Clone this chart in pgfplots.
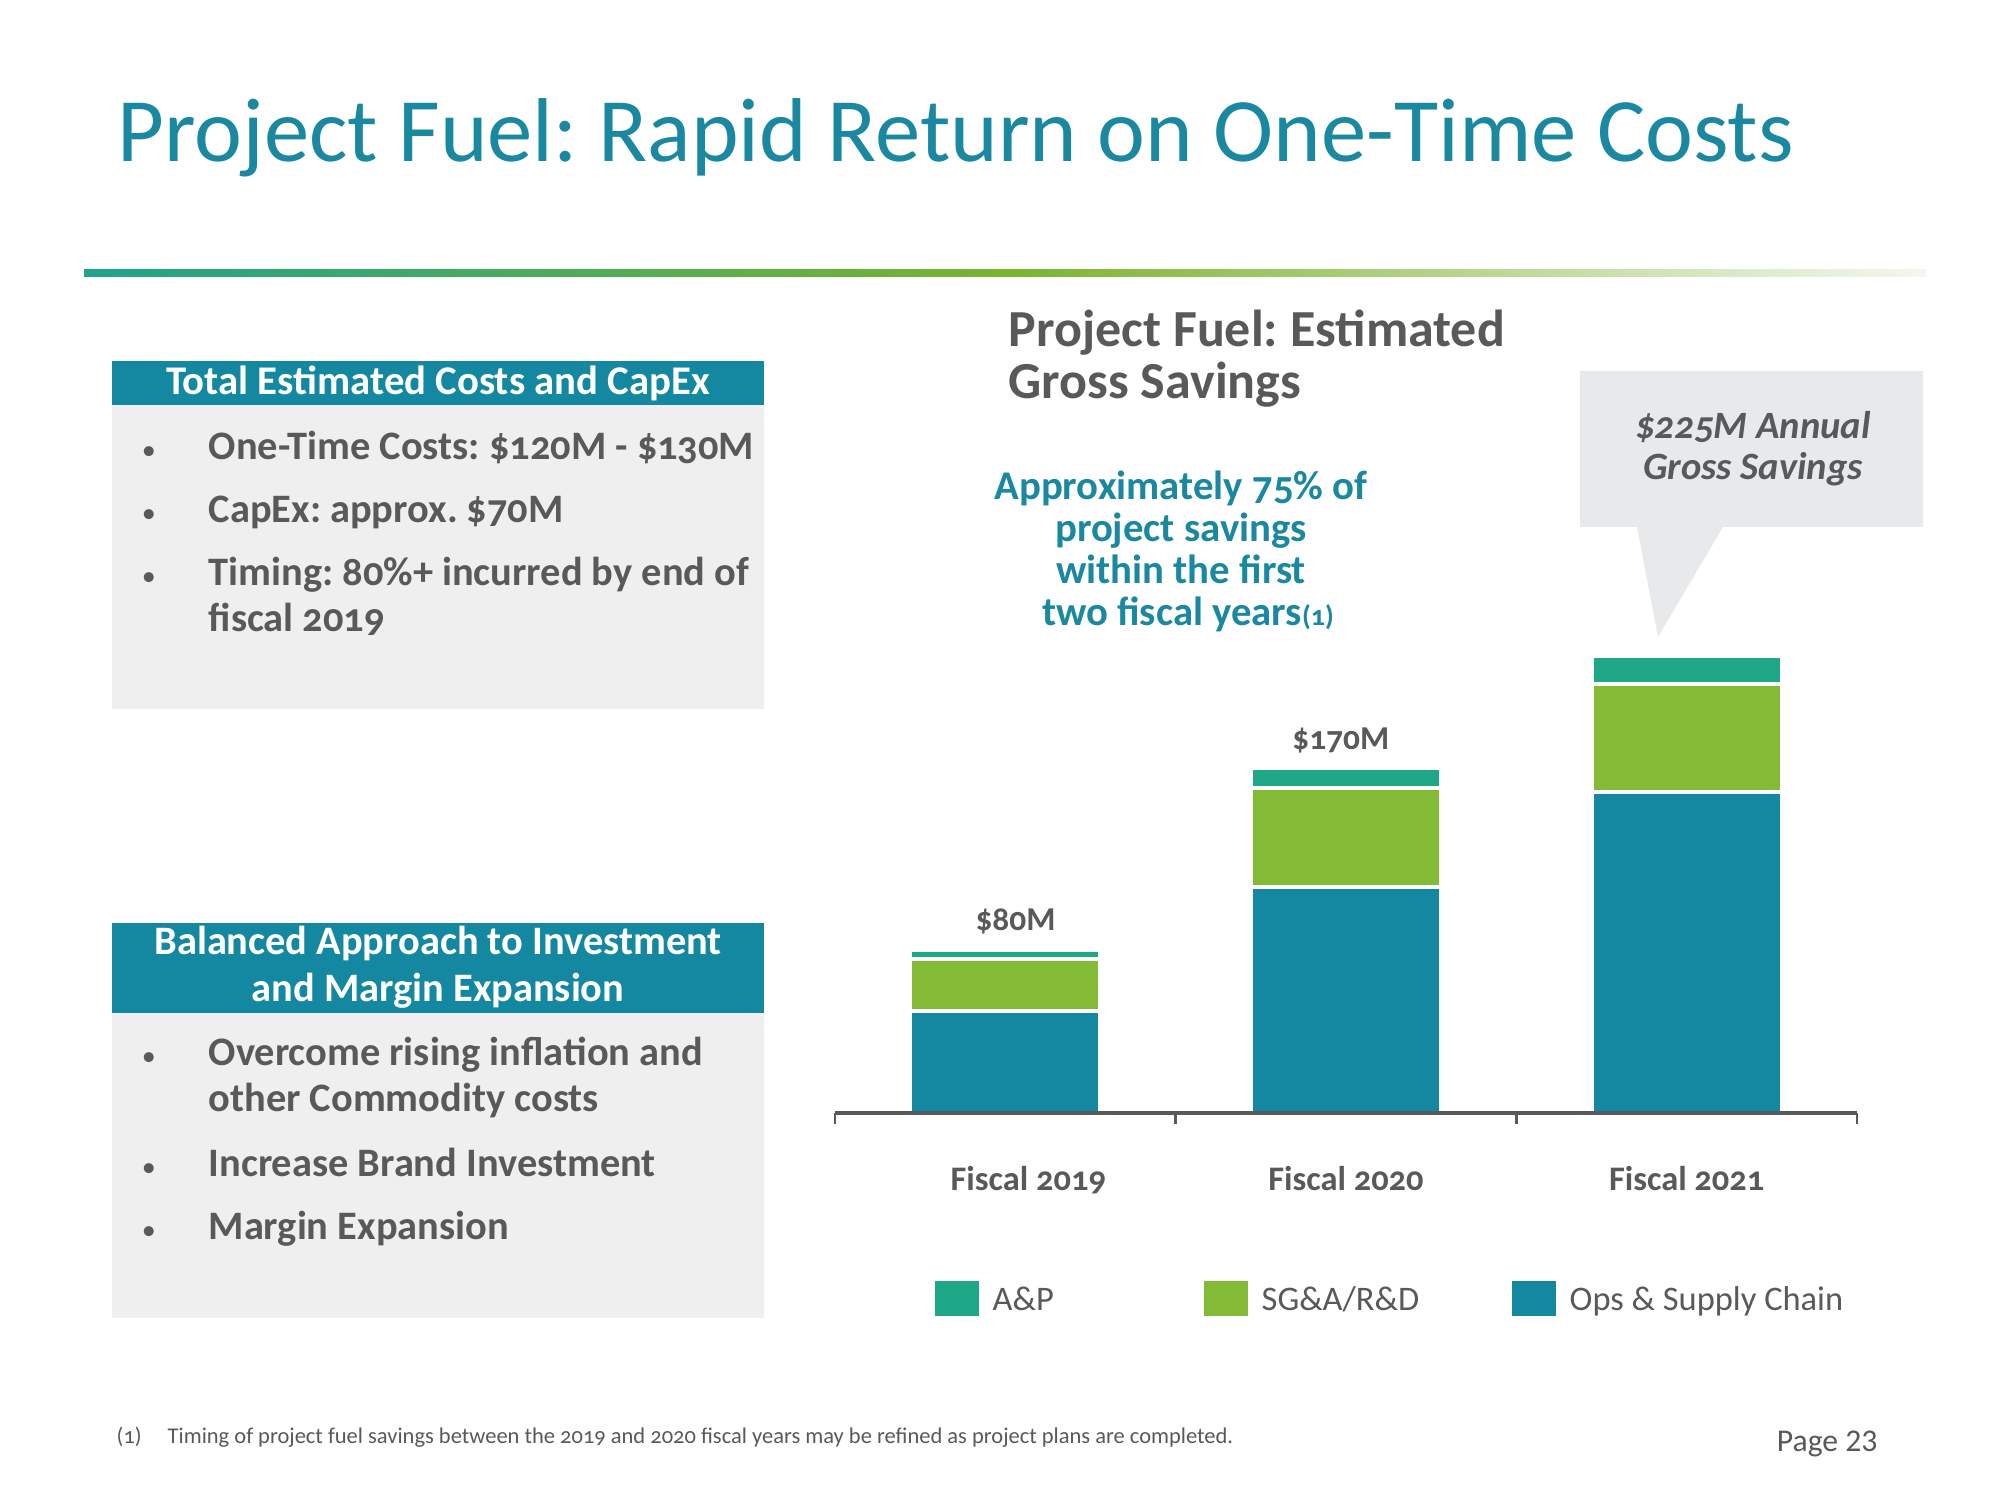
\documentclass[border=0pt]{standalone}
\usepackage{pgfplots}
\pgfplotsset{compat=1.18}
\usepackage{fontspec}
\setmainfont{Carlito}[Numbers=OldStyle]
\newfontfamily\lining{Carlito}
\frenchspacing
\definecolor{cOps}{HTML}{1588A1}
\definecolor{cSGA}{HTML}{84BB36}
\definecolor{cAP}{HTML}{1FA887}
\definecolor{cTitle}{HTML}{1A88A0}
\definecolor{cGray}{HTML}{58595B}
\definecolor{cBox}{HTML}{EFEFEF}
\definecolor{cHead}{HTML}{1588A1}
\definecolor{cCall}{HTML}{E8E9EB}
\definecolor{cLineL}{HTML}{1FA38A}
\definecolor{cLineM}{HTML}{7AB32E}
\definecolor{cLineR}{HTML}{F4F8EE}
\pgfplotsset{sqleg/.style={legend image code/.code={\fill[##1,draw=none] (0mm,-0.6mm) rectangle (4.4mm,2.9mm);}}}
\newcommand{\bul}{{\mdseries\fontsize{8}{9}\selectfont\textbullet}}
\begin{document}
\begin{tikzpicture}[x=0.1mm,y=0.1mm]
\fill[white] (0,0) rectangle (2000,1500);
% title
\node[anchor=base west, inner sep=0, text=cTitle, font=\fontsize{25.8}{30}\selectfont] at (117,1338) {Project Fuel: Rapid Return on One-Time Costs};
% gradient rule
\shade[left color=cLineL, right color=cLineR, middle color=cLineM] (84,1223.5) rectangle (1926,1230.5);
% box 1
\fill[cBox] (112,791) rectangle (764,1095);
\fill[cHead] (112,1095) rectangle (764,1139);
\node[anchor=base, inner sep=0, text=white, font=\bfseries\fontsize{11.6}{14}\selectfont] at (438,1105) {Total Estimated Costs and CapEx};
\begin{scope}[every node/.style={inner sep=0, text=cGray, font=\bfseries\fontsize{11.5}{14}\selectfont}]
\node[anchor=base] at (149,1040) {\bul};
\node[anchor=base west] at (208,1040) {One-Time Costs: \$120M - \$130M};
\node[anchor=base] at (149,977) {\bul};
\node[anchor=base west] at (208,977) {CapEx: approx. \$70M};
\node[anchor=base] at (149,914) {\bul};
\node[anchor=base west] at (208,914) {Timing: 80\%+ incurred by end of};
\node[anchor=base west] at (208,868) {fiscal 2019};
\end{scope}
% box 2
\fill[cBox] (112,182) rectangle (764,487);
\fill[cHead] (112,487) rectangle (764,577);
\node[anchor=base, inner sep=0, text=white, font=\bfseries\fontsize{11.5}{14}\selectfont] at (438,545) {Balanced Approach to Investment};
\node[anchor=base, inner sep=0, text=white, font=\bfseries\fontsize{11.5}{14}\selectfont] at (438,498) {and Margin Expansion};
\begin{scope}[every node/.style={inner sep=0, text=cGray, font=\bfseries\fontsize{11.5}{14}\selectfont}]
\node[anchor=base] at (149,434) {\bul};
\node[anchor=base west] at (208,434) {Overcome rising inflation and};
\node[anchor=base west] at (208,388) {other Commodity costs};
\node[anchor=base] at (149,323) {\bul};
\node[anchor=base west] at (208,323) {Increase Brand Investment};
\node[anchor=base] at (149,260) {\bul};
\node[anchor=base west] at (208,260) {Margin Expansion};
\end{scope}
% chart title
\node[anchor=base west, inner sep=0, text=cGray, font=\bfseries\fontsize{14.8}{18}\selectfont] at (1008,1153) {Project Fuel: Estimated};
\node[anchor=base west, inner sep=0, text=cGray, font=\bfseries\fontsize{14.8}{18}\selectfont] at (1008,1101) {Gross Savings};
% annotation
\begin{scope}[every node/.style={anchor=base, inner sep=0, text=cTitle, font=\bfseries\fontsize{11.6}{14}\selectfont}]
\node at (1181,1000) {Approximately 75\% of};
\node at (1181,958) {project savings};
\node at (1181,916) {within the first};
\node at (1188,874) {two fiscal years{\fontsize{8}{10}\selectfont(1)}};
\end{scope}
% callout
\fill[cCall] (1580,1129) -- (1923,1129) -- (1923,973) -- (1723,973) -- (1658,863) -- (1637,973) -- (1580,973) -- cycle;
\node[anchor=base, inner sep=0, text=cGray, font=\bfseries\itshape\fontsize{11}{14}\selectfont] at (1753,1061) {\$225M Annual};
\node[anchor=base, inner sep=0, text=cGray, font=\bfseries\itshape\fontsize{11}{14}\selectfont] at (1753,1020) {Gross Savings};
% footnote
\node[anchor=base west, inner sep=0, text=cGray, font=\fontsize{6.4}{7}\selectfont] at (116,56) {(1)};
\node[anchor=base west, inner sep=0, text=cGray, font=\fontsize{6.4}{7}\selectfont] at (167,56) {Timing of project fuel savings between the 2019 and 2020 fiscal years may be refined as project plans are completed.};
\node[anchor=base east, inner sep=0, text=cGray, font=\lining\fontsize{9}{10}\selectfont] at (1878,48) {Page 23};
% chart
\begin{axis}[
  at={(83.5mm,38.7mm)}, anchor=south west,
  width=102.2mm, height=50.8mm, scale only axis,
  xmin=-0.5, xmax=2.5, ymin=0, ymax=250,
  ybar stacked, bar width=0.558,
  axis x line*=bottom, axis y line=none,
  axis on top, clip=false,
  x axis line style={cGray, line width=1.2pt},
  xtick={0,1,2},
  xticklabels={\hspace*{4.6mm}Fiscal 2019, Fiscal 2020, Fiscal 2021},
  major x tick style={draw=none},
  minor xtick={-0.5,0.5,1.5,2.5},
  minor x tick style={cGray, line width=0.8pt},
  minor tick length=1.1mm,
  tick align=outside,
  xticklabel style={anchor=base, yshift=-6.3mm, inner sep=0pt, font=\bfseries\fontsize{9.8}{12}\selectfont, text=cGray},
  legend columns=3, reverse legend,
  legend style={at={(0.0969,-0.366)}, anchor=west, draw=none, fill=none, inner sep=0pt,
    font=\fontsize{9.8}{12}\selectfont, text=cGray,
    nodes={anchor=base west, inner sep=0pt},
    /tikz/every even column/.append style={column sep=0pt},
    /tikz/every odd column/.append style={column sep=0pt}},
]
\addplot[fill=cOps, draw=white, line width=0.4mm, sqleg] coordinates {(0,50) (1,111) (2,158)};
\addlegendentry{\makebox[30mm][l]{\hspace*{1.4mm}Ops \& Supply Chain}}
\addplot[fill=cSGA, draw=white, line width=0.4mm, sqleg] coordinates {(0,26) (1,49) (2,53)};
\addlegendentry{\makebox[26.4mm][l]{\hspace*{1.4mm}SG\&A/R\&D}}
\addplot[fill=cAP, draw=white, line width=0.4mm, sqleg] coordinates {(0,4) (1,10) (2,14)};
\addlegendentry{\makebox[22.5mm][l]{\hspace*{1.4mm}A\&P}}
\node[anchor=base, inner sep=0, text=cGray, font=\bfseries\fontsize{9.5}{12}\selectfont] at (axis cs:0.03,89.6) {\$80M};
\node[anchor=base, inner sep=0, text=cGray, font=\bfseries\fontsize{9.5}{12}\selectfont] at (axis cs:0.985,179.1) {\$170M};
\end{axis}
\end{tikzpicture}
\end{document}
